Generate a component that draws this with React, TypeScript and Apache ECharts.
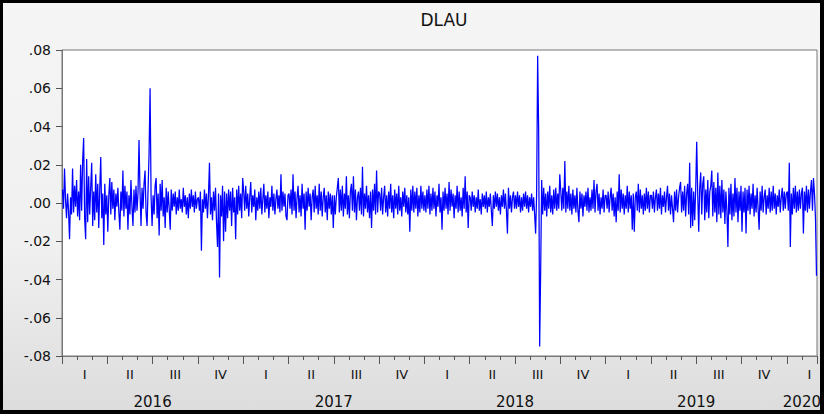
import React, { useEffect, useRef } from "react";
import * as echarts from "echarts";

// DLAU daily log-return values, in thousandths (0.001), one array per quarter (about one value per trading day-pixel).
const Q2016_1 = [7, -3, 18, 2, -8, 5, -4, -19, 3, -6, 18, -5, 9, -2, 12, -7, 6, -9, 20, -4, 22, 34, -8, -19, 23, -10, 14, -6, 8, 21, -12, 6, -9, 15, -5, 10, -13, 7, 24, -8, 5, -22, 10, -6, 4];
const Q2016_2 = [-15, 4, 13, -6, 11, -3, 7, -9, 5, -2, 8, -5, -14, 6, -4, 17, -7, 9, -3, 6, -14, 4, -6, 12, -2, -12, 7, -5, 9, -4, 5, 33, 6, -12, 8, -3, 10, 17, -5, -12, 7, 26, 60, 3, -12];
const Q2016_3 = [4, -6, 9, 13, -8, 5, -17, 10, -4, 12, -7, 3, -13, 8, -5, 6, -3, -14, 7, -4, 5, -2, 6, -6, 3, -4, 7, -3, 2, -5, 8, -2, 4, -6, 3, -8, 5, -3, 7, -2, 4, -5, 6, -3, 2];
const Q2016_4 = [3, -4, 6, -25, 2, -5, 7, -3, 5, -8, 4, 21, -6, 3, -9, 6, -4, 8, -10, -23, 5, -39, 4, -7, 9, -20, 6, -15, 5, -8, 7, -4, 6, -12, 8, -5, 3, -19, 7, -6, 9, -4, 5, -8, 13];
const Q2017_1 = [6, -4, 9, -3, 5, -7, 3, 11, -5, 4, -2, 7, -9, 3, -4, 6, -3, 8, -6, 2, 10, -5, 4, -3, 6, -8, 3, -2, 9, -4, 5, -6, 2, 7, -3, 4, -5, 15, -4, 6, -2, 5, -7, -9, 4];
const Q2017_2 = [5, -3, 7, -6, 15, -4, 6, -8, 3, 9, -5, 4, -7, 10, -3, 5, -14, 6, -4, 8, -2, 5, -9, 3, 7, -5, 9, -3, 4, -6, 10, -4, 6, -7, 3, 8, -5, 4, -9, 6, -3, 5, -6, 4, -13];
const Q2017_3 = [4, -6, 3, 8, 13, -5, 7, -4, 9, -7, 5, -3, 14, -6, 4, -8, 6, 10, -4, 14, -5, 7, -9, 3, 6, -4, 8, -6, 19, -7, 5, -3, 9, -5, 4, -8, 6, -13, 7, -4, 10, -6, 17, -5, 6];
const Q2017_4 = [5, -4, 8, -6, 3, 9, -5, 4, -7, 6, -3, 10, -5, 4, -8, 7, -3, 5, -6, 9, -4, 3, -7, 6, -2, 8, -5, 4, -6, 3, -15, 7, -4, 9, -5, 6, -3, 8, -7, 4, -5, 9, -3, 6, -4];
const Q2018_1 = [4, -5, 7, -3, 9, -6, 5, -4, 8, -3, 6, -7, 4, -2, 10, -5, 3, -14, 6, -4, 8, -3, 5, -6, 11, -4, 7, -2, 5, -8, 4, -3, 9, -5, 6, -4, 3, -7, 8, -3, 14, -5, 6, -13, 4];
const Q2018_2 = [3, -4, 6, -2, 4, -5, 3, -3, 7, -4, 2, -6, 5, -2, 4, -3, 6, -5, 3, -2, 5, -4, -12, 4, -3, 6, -2, 5, -4, 3, -6, 4, -2, 7, -3, 5, -4, -16, 8, -3, 4, -5, 3, 6, -3];
const Q2018_3 = [4, -3, 6, -2, 4, -5, 3, -4, 5, -2, 6, -3, 4, -5, 3, -2, 5, -4, 3, -6, -16, 5, 77, 38, -75, -35, 12, -6, 8, -4, 5, -7, 6, -3, 9, -5, 4, -6, 7, -3, 8, -4, 5, -3, 15];
const Q2018_4 = [6, -4, 8, -3, 22, -5, 6, -3, 9, -4, 5, -6, 7, -3, 4, -5, 8, -4, -10, 6, -3, 5, -7, 4, -2, 6, -4, 8, -5, 3, -4, 7, -3, 12, -5, 6, 10, -4, 5, -6, 3, -3, 7, -5, 4];
const Q2019_1 = [4, -3, 6, -5, 3, 8, -4, 5, -7, 3, -10, 6, -4, 15, -5, 7, -3, 5, -6, 4, -3, 9, -5, 6, -3, 4, -14, 5, -15, 3, 6, -4, 10, -5, 7, -3, 4, -6, 5, -4, 8, -3, 6, -5, 4];
const Q2019_2 = [4, -3, 6, -5, 3, 7, -4, 5, -3, 8, -6, 4, -2, 6, -5, 3, 9, -4, 5, -6, 4, -3, -10, 6, -4, 7, -5, 3, 8, 11, -5, 6, -4, 9, -7, 5, 10, -6, 21, -13, 8, -12, 6, -9, 7];
const Q2019_3 = [32, 5, -15, 8, 16, -6, 10, 14, -9, 7, -5, 12, -8, 6, 9, 17, -7, 11, -5, 8, -10, 16, -6, 9, -8, 12, -5, 7, -11, 6, -4, -23, 8, -6, 10, -9, 5, -7, 13, -5, 8, -10, 6, -4, 9];
const Q2019_4 = [-15, 6, -5, 8, -16, 7, -4, 9, -6, 5, -3, 10, -7, 4, -5, 8, -3, -14, 6, -4, 9, -5, 3, 7, -6, 4, -3, 8, -5, 6, -4, 9, -3, 5, -6, 4, -2, 7, -5, 3, 8, -4, 6, -3, 5];
const Q2020_1 = [6, -4, 21, -23, 5, -6, 8, -3, 9, -5, 6, -4, 7, -3, 5, 8, -16, 6, -4, 9, -5, 7, -3, 6, 12, -4, 13, 5, -8, -38];

const QUARTER_SERIES = [
  Q2016_1, Q2016_2, Q2016_3, Q2016_4,
  Q2017_1, Q2017_2, Q2017_3, Q2017_4,
  Q2018_1, Q2018_2, Q2018_3, Q2018_4,
  Q2019_1, Q2019_2, Q2019_3, Q2019_4,
  Q2020_1,
];
// months covered by each quarter block (last one is partial: Jan-Feb 2020)
const QUARTER_MONTHS = [3, 3, 3, 3, 3, 3, 3, 3, 3, 3, 3, 3, 3, 3, 3, 3, 2];

const YEARS = ["2016", "2017", "2018", "2019", "2020"];
const QUARTER_LABELS = ["I", "II", "III", "IV"];
const TOTAL_MONTHS = 50;
const Y_TICKS = [-0.08, -0.06, -0.04, -0.02, 0, 0.02, 0.04, 0.06, 0.08];

const FONT = "DejaVu Sans";

export default function App() {
  const ref = useRef<HTMLDivElement>(null);

  useEffect(() => {
    if (!ref.current) return;
    const chart = echarts.init(ref.current, undefined, { renderer: "svg" });

    const points: number[][] = [];
    let monthStart = 0;
    QUARTER_SERIES.forEach((vals, q) => {
      const span = QUARTER_MONTHS[q];
      vals.forEach((v, i) => {
        points.push([monthStart + (span * (i + 0.5)) / vals.length, v / 1000]);
      });
      monthStart += span;
    });

    const months: string[] = [];
    for (let m = 0; m < TOTAL_MONTHS; m++) {
      months.push(YEARS[Math.floor(m / 12)] + "-" + String((m % 12) + 1).padStart(2, "0"));
    }
    const yearLabelAt: Record<number, string> = {};
    YEARS.forEach((y, i) => {
      const start = i * 12;
      const end = Math.min(start + 12, TOTAL_MONTHS);
      yearLabelAt[(start + end) / 2] = y;
    });

    const fmtY = (v: number) => {
      const r = Math.round(v * 100) / 100;
      const s = Math.abs(r).toFixed(2).replace(/^0/, "");
      return r < 0 ? "-" + s : s;
    };

    chart.setOption({
      animation: false,
      backgroundColor: "transparent",
      title: {
        text: "DLAU",
        left: 439,
        top: 6,
        textAlign: "center",
        textStyle: { fontFamily: FONT, fontSize: 17, fontWeight: "normal", color: "#111" },
      },
      grid: {
        left: 62,
        right: 7,
        top: 50,
        bottom: 58,
        show: true,
        backgroundColor: "#ffffff",
        borderColor: "#777",
        borderWidth: 1,
      },
      xAxis: [
        {
          type: "value",
          min: 0,
          max: TOTAL_MONTHS,
          show: false,
        },
        {
          type: "category",
          position: "bottom",
          data: months,
          boundaryGap: true,
          axisLine: { show: true, lineStyle: { color: "#777", width: 1 } },
          axisTick: { show: true, interval: 0, length: 4, lineStyle: { color: "#555" } },
          axisLabel: {
            interval: (idx: number) => idx % 3 === 1,
            formatter: (_v: string, idx: number) => QUARTER_LABELS[Math.floor(idx / 3) % 4],
            margin: 12,
            fontFamily: FONT,
            fontSize: 13,
            color: "#111",
          },
          splitLine: { show: false },
        },
        {
          type: "category",
          position: "bottom",
          data: months,
          boundaryGap: true,
          axisLine: { show: false },
          axisTick: {
            show: true,
            interval: (idx: number) => idx % 3 === 0,
            length: 8,
            lineStyle: { color: "#555" },
          },
          axisLabel: { show: false },
          splitLine: { show: false },
        },
        {
          type: "value",
          position: "bottom",
          min: 0,
          max: TOTAL_MONTHS,
          interval: 1,
          axisLine: { show: false },
          axisTick: { show: false },
          splitLine: { show: false },
          axisLabel: {
            formatter: (v: number) => yearLabelAt[v] ?? "",
            margin: 38,
            fontFamily: FONT,
            fontSize: 15,
            color: "#111",
          },
        },
      ],
      yAxis: {
        type: "value",
        min: Y_TICKS[0],
        max: Y_TICKS[Y_TICKS.length - 1],
        interval: 0.02,
        axisLine: { show: true, lineStyle: { color: "#777" } },
        axisTick: { show: true, length: 6, inside: false, lineStyle: { color: "#555" } },
        splitLine: { show: false },
        axisLabel: {
          formatter: fmtY,
          margin: 11,
          fontFamily: FONT,
          fontSize: 14,
          color: "#111",
        },
      },
      series: [
        {
          type: "line",
          xAxisIndex: 0,
          yAxisIndex: 0,
          data: points,
          showSymbol: false,
          symbol: "none",
          clip: true,
          lineStyle: { color: "#0000ff", width: 1.25 },
        },
      ],
    });

    return () => chart.dispose();
  }, []);

  const bar = (s: React.CSSProperties): React.CSSProperties => ({
    position: "absolute",
    background: "#000",
    pointerEvents: "none",
    ...s,
  });

  return (
    <div
      style={{
        position: "absolute",
        left: 0,
        top: 0,
        width: 824,
        height: 414,
        background: "linear-gradient(#f5f5f5 0%, #f0f0f0 60%, #dcdcdc 100%)",
        overflow: "hidden",
      }}
    >
      <div ref={ref} style={{ position: "absolute", left: 0, top: 0, width: 824, height: 414 }} />
      <div style={bar({ left: 0, top: 0, width: 824, height: 3 })} />
      <div style={bar({ left: 0, top: 0, width: 3, height: 414 })} />
      <div style={bar({ right: 0, top: 0, width: 4, height: 414 })} />
      <div style={bar({ left: 0, bottom: 0, width: 824, height: 4 })} />
    </div>
  );
}
